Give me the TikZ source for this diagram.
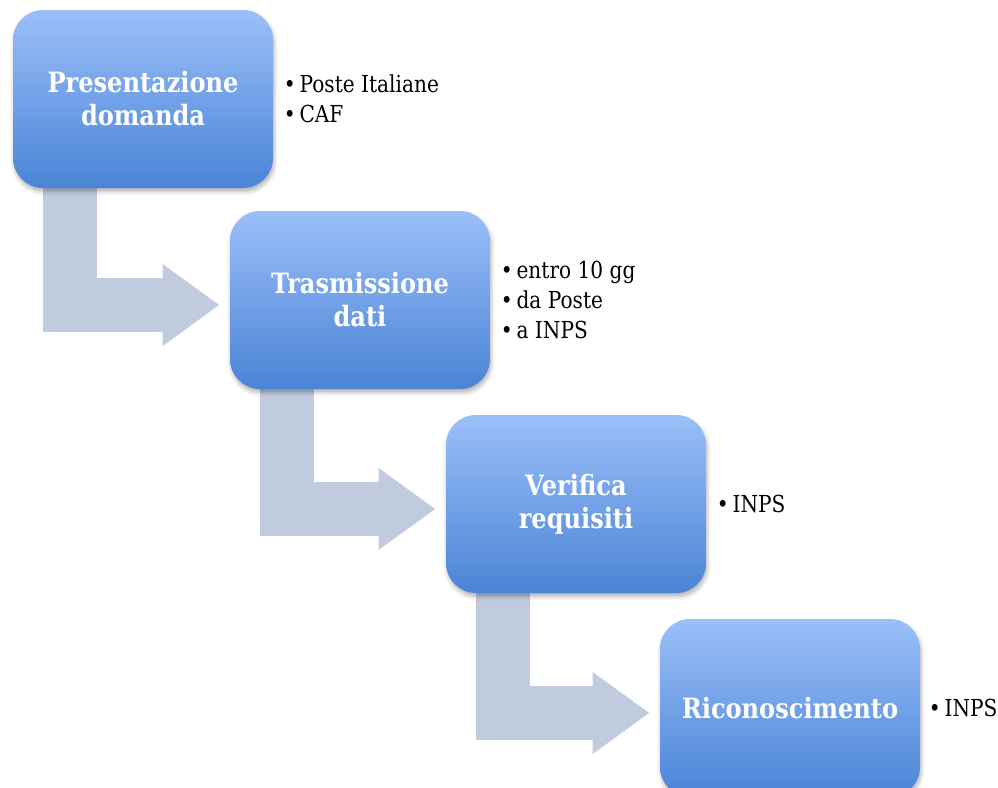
\documentclass[tikz,border=0pt]{standalone}
\usepackage{fontspec}
\setmainfont{DejaVu Serif}[FakeStretch=0.86]
\usetikzlibrary{arrows.meta,positioning,backgrounds,shadows.blur}

\definecolor{boxtop}{RGB}{155,191,249}
\definecolor{boxbot}{RGB}{74,132,214}
\definecolor{flowgray}{RGB}{193,203,222}

\begin{document}
\begin{tikzpicture}[x=0.5pt, y=-0.5pt,
    stage/.style={rectangle, rounded corners=15pt, minimum width=130pt, minimum height=89pt,
      top color=boxtop, bottom color=boxbot, text=white, align=center,
      font=\fontsize{14}{16.5}\selectfont\bfseries,
      blur shadow={shadow xshift=0.6pt, shadow yshift=-1.8pt, shadow opacity=30}},
    notes/.style={inner sep=0pt, align=left, font=\fontsize{11.7}{15}\selectfont},
    flow/.style={draw=flowgray, line width=27pt, -{Triangle[length=28.5pt, width=39pt]}, shorten >=5pt}]
    \useasboundingbox (0,0) rectangle (998,788);
    \clip (0,0) rectangle (998,788);
    \node[stage] (b1) at (143, 99) {Presentazione\\domanda};
    \node[stage] (b2) at (360, 300) {Trasmissione\\dati};
    \node[stage] (b3) at (576, 504) {Verifica\\requisiti};
    \node[stage] (b4) at (790, 708) {Riconoscimento};
    \node[notes, right=5pt of b1] (n1) {\textbullet\,Poste Italiane\\\textbullet\,CAF};
    \node[notes, right=5pt of b2] (n2) {\textbullet\,entro 10 gg\\\textbullet\,da Poste\\\textbullet\,a INPS};
    \node[notes, right=5pt of b3] (n3) {\textbullet\,INPS};
    \node[notes, right=4pt of b4] (n4) {\textbullet\,INPS};
    \begin{scope}[on background layer]
      \draw[flow] ([xshift=28.5pt]b1.south west) |- ([yshift=-2.5pt]b2.west);
      \draw[flow] ([xshift=28.5pt]b2.south west) |- ([yshift=-2.5pt]b3.west);
      \draw[flow] ([xshift=28.5pt]b3.south west) |- ([yshift=-2.5pt]b4.west);
    \end{scope}
  \end{tikzpicture}
\end{document}
